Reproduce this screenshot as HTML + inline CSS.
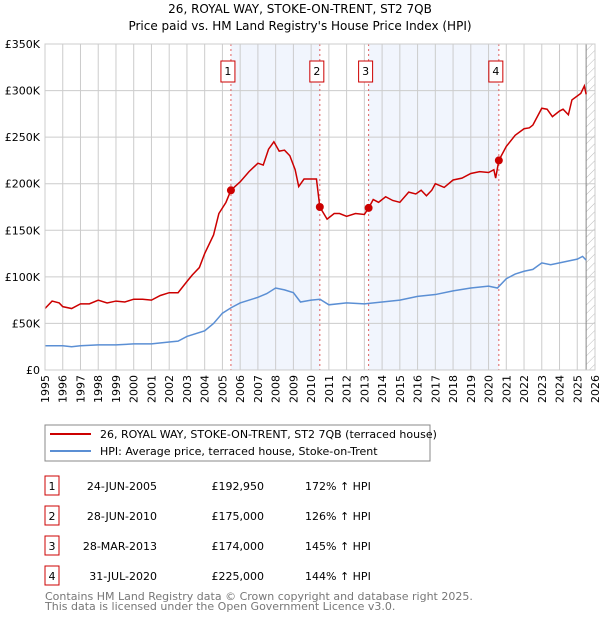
<!DOCTYPE html>
<html><head><meta charset="utf-8"><style>
body{margin:0;background:#fff;font-family:"DejaVu Sans","Liberation Sans",sans-serif;}
svg text{font-family:"DejaVu Sans","Liberation Sans",sans-serif;}
</style></head><body>
<svg id="c" width="600" height="620" xmlns="http://www.w3.org/2000/svg">
<defs><pattern id="hatch" width="6" height="6" patternUnits="userSpaceOnUse" patternTransform="rotate(45)"><line x1="0" y1="0" x2="0" y2="6" stroke="#bbb" stroke-width="1"/></pattern></defs>
<text x="300" y="13" text-anchor="middle" font-size="12">26, ROYAL WAY, STOKE-ON-TRENT, ST2 7QB</text>
<text x="300" y="30" text-anchor="middle" font-size="12">Price paid vs. HM Land Registry's House Price Index (HPI)</text>
<g id="plot"></g>
<rect x="45" y="425" width="385" height="36" fill="#fff" stroke="#888"/>
<line x1="50" y1="434" x2="91" y2="434" stroke="#cc0000" stroke-width="2"/>
<text x="100" y="438" font-size="11">26, ROYAL WAY, STOKE-ON-TRENT, ST2 7QB (terraced house)</text>
<line x1="50" y1="451" x2="91" y2="451" stroke="#5b8fd4" stroke-width="2"/>
<text x="100" y="455" font-size="11">HPI: Average price, terraced house, Stoke-on-Trent</text>
<g id="table" font-size="11"></g>
<text x="45" y="600" font-size="11" fill="#777">Contains HM Land Registry data © Crown copyright and database right 2025.</text>
<text x="45" y="610" font-size="11" fill="#777">This data is licensed under the Open Government Licence v3.0.</text>
</svg>
<script>
const yearTicks=[1995,1996,1997,1998,1999,2000,2001,2002,2003,2004,2005,2006,2007,2008,2009,2010,2011,2012,2013,2014,2015,2016,2017,2018,2019,2020,2021,2022,2023,2024,2025,2026];
const valueTicks=[0,50,100,150,200,250,300,350];
const valueTickLabels=["£0","£50K","£100K","£150K","£200K","£250K","£300K","£350K"];
const priceT=[1995,1995.4,1995.8,1996,1996.5,1997,1997.5,1998,1998.5,1999,1999.5,2000,2000.5,2001,2001.5,2002,2002.5,2003,2003.3,2003.7,2004,2004.5,2004.8,2005.2,2005.48,2006,2006.5,2007,2007.3,2007.6,2007.9,2008.2,2008.5,2008.8,2009.1,2009.3,2009.6,2010,2010.3,2010.49,2010.9,2011.3,2011.6,2012,2012.5,2013,2013.24,2013.5,2013.8,2014.2,2014.6,2015,2015.5,2015.9,2016.2,2016.5,2016.8,2017,2017.5,2018,2018.5,2019,2019.5,2020,2020.3,2020.4,2020.58,2021,2021.5,2022,2022.3,2022.5,2023,2023.3,2023.6,2024,2024.2,2024.5,2024.7,2025.2,2025.4,2025.5];
const priceV=[66,74,72,68,66,71,71,75,72,74,73,76,76,75,80,83,83,95,102,110,125,145,168,180,193,202,213,222,220,237,245,235,236,230,215,197,205,205,205,175,162,168,168,165,168,167,174,183,180,186,182,180,191,189,193,187,193,200,196,204,206,211,213,212,215,206,225,240,252,259,260,263,281,280,272,278,280,274,290,297,305,296];
const hpiT=[1995,1996,1996.5,1997,1998,1999,2000,2001,2002,2002.5,2003,2004,2004.5,2005,2005.5,2006,2007,2007.5,2008,2008.5,2009,2009.4,2010,2010.5,2011,2012,2013,2014,2015,2016,2017,2018,2019,2020,2020.5,2021,2021.5,2022,2022.5,2023,2023.5,2024,2024.5,2025,2025.3,2025.5];
const hpiV=[26,26,25,26,27,27,28,28,30,31,36,42,50,61,67,72,78,82,88,86,83,73,75,76,70,72,71,73,75,79,81,85,88,90,88,98,103,106,108,115,113,115,117,119,122,118];
const saleLabels=["1","2","3","4"];
const saleT=[2005.48,2010.49,2013.24,2020.58];
const saleV=[192.95,175,174,225];
const saleDates=["24-JUN-2005","28-JUN-2010","28-MAR-2013","31-JUL-2020"];
const salePrices=["£192,950","£175,000","£174,000","£225,000"];
const saleHpi=["172% ↑ HPI","126% ↑ HPI","145% ↑ HPI","144% ↑ HPI"];
const X0=45,X1=595,Y0=370,Y1=44;
const xs=t=>X0+(t-1995)/(2026-1995)*(X1-X0);
const ys=v=>Y0-v/350*(Y0-Y1);
const NS="http://www.w3.org/2000/svg";
const g=document.getElementById('plot');
function mk(tag,at,parent){const e=document.createElementNS(NS,tag);for(const k in at)e.setAttribute(k,at[k]);(parent||g).appendChild(e);return e;}
for(let i=0;i<4;i+=2){const r=mk('rect',{x:xs(saleT[i]),y:Y1,width:xs(saleT[i+1])-xs(saleT[i]),height:Y0-Y1,fill:'#eef3fc',opacity:0.8});

}
const hr=mk('rect',{x:xs(2025.5),y:Y1,width:X1-xs(2025.5),height:Y0-Y1,fill:'url(#hatch)'});


yearTicks.forEach(t=>{const l=mk('line',{x1:xs(t),x2:xs(t),y1:Y1,y2:Y0,stroke:'#ccc'});


const tx=mk('text',{x:0,y:0,'font-size':11,'text-anchor':'end',transform:`translate(${xs(t)+4},375) rotate(-90)`});tx.textContent=t;

});
valueTicks.forEach((v,i)=>{const l=mk('line',{x1:X0,x2:X1,y1:ys(v),y2:ys(v),stroke:'#ccc'});


const tx=mk('text',{x:40,y:ys(v)+4,'font-size':11,'text-anchor':'end'});tx.textContent=valueTickLabels[i];

});
const vl=mk('line',{x1:xs(2025.5),x2:xs(2025.5),y1:Y1,y2:Y0,stroke:'#888'});


saleT.forEach((t,i)=>{const l=mk('line',{x1:xs(t),x2:xs(t),y1:Y1,y2:Y0,stroke:'#e06060','stroke-dasharray':'2,3'});


const b=mk('rect',{x:xs(t)-10,y:61,width:14,height:21,fill:'#fff',stroke:'#cc0000'});


const tx=mk('text',{x:xs(t)-3,y:75,'font-size':11,'text-anchor':'middle'});tx.textContent=saleLabels[i];

});
const hp=mk('polyline',{points:hpiT.map((t,i)=>xs(t)+','+ys(hpiV[i])).join(' '),fill:'none',stroke:'#5b8fd4','stroke-width':1.5});


const pp=mk('polyline',{points:priceT.map((t,i)=>xs(t)+','+ys(priceV[i])).join(' '),fill:'none',stroke:'#cc0000','stroke-width':1.5});


saleT.forEach((t,i)=>{const c=mk('circle',{cx:xs(t),cy:ys(saleV[i]),r:4,fill:'#cc0000'});

});
const ax=mk('rect',{x:X0,y:Y1,width:X1-X0,height:Y0-Y1,fill:'none',stroke:'#ccc'});


const tb=document.getElementById('table');
saleT.forEach((t,i)=>{const y=487+i*30;
const b=mk('rect',{x:45,y:y-11,width:14,height:19,fill:'#fff',stroke:'#cc0000'},tb);


const cells=[[52,saleLabels[i],'middle'],[157,saleDates[i],'end'],[264,salePrices[i],'end'],[305,saleHpi[i],'start']];
cells.forEach(c=>{const tx=mk('text',{x:c[0],y:y+3,'text-anchor':c[2]},tb);tx.textContent=c[1];

});});
</script>
</body></html>
